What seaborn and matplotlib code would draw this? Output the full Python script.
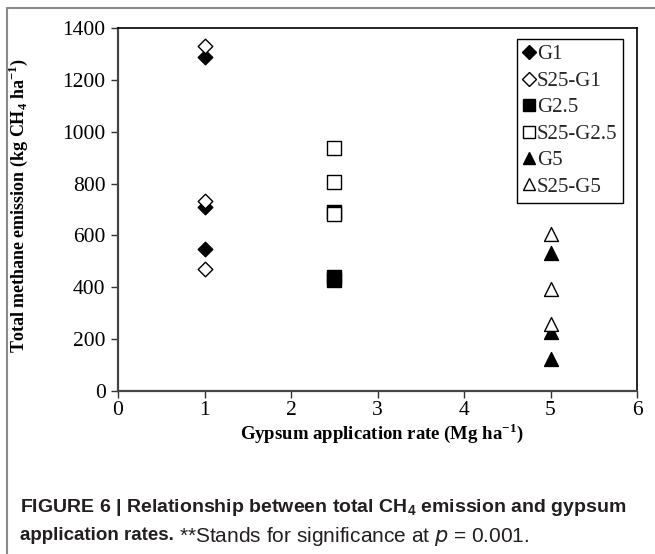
import matplotlib
matplotlib.use("Agg")
import matplotlib.pyplot as plt
import seaborn as sns
import pandas as pd
from matplotlib.lines import Line2D

sns.set_theme(style="white")

series = ["G1", "S25-G1", "G2.5", "S25-G2.5", "G5", "S25-G5"]
rates = {"G1": 1, "S25-G1": 1, "G2.5": 2.5, "S25-G2.5": 2.5, "G5": 5, "S25-G5": 5}
values = {
    "G1": [1290, 708, 546],
    "S25-G1": [1331, 733, 471],
    "G2.5": [692, 440, 428],
    "S25-G2.5": [936, 805, 682],
    "G5": [532, 228, 122],
    "S25-G5": [607, 395, 258],
}
markers = {"G1": "D", "S25-G1": "D", "G2.5": "s", "S25-G2.5": "s", "G5": "^", "S25-G5": "^"}
filled = {"G1": True, "S25-G1": False, "G2.5": True, "S25-G2.5": False, "G5": True, "S25-G5": False}
sizes = {"D": 55, "s": 100, "^": 100}

rows = []
for s in series:
    for v in values[s]:
        rows.append({"series": s, "rate": rates[s], "emission": v})
df = pd.DataFrame(rows)

fig = plt.figure(figsize=(6.55, 5.54), dpi=100)
ax = fig.add_axes([118 / 655, 1 - 391 / 554, (637 - 118) / 655, (391 - 28) / 554])

for s in series:
    sub = df[df["series"] == s]
    m = markers[s]
    sns.scatterplot(data=sub, x="rate", y="emission", ax=ax, marker=m,
                    s=sizes[m], color="black",
                    facecolor="black" if filled[s] else "white",
                    edgecolor="black", linewidth=1.0, legend=False, zorder=3)

ax.set_xlim(0, 6)
ax.set_ylim(0, 1400)
ax.set_xticks(range(0, 7))
ax.set_yticks(range(0, 1401, 200))

serif = ["Liberation Serif", "DejaVu Serif"]
for lab in ax.get_xticklabels() + ax.get_yticklabels():
    lab.set_family(serif)
    lab.set_fontsize(15.5)
    lab.set_color("black")

ax.tick_params(axis="both", which="major", direction="out", length=5, width=1.0,
               color="#333333", bottom=True, left=True, pad=4)
ax.tick_params(axis="x", pad=2.5)
for side in ["left", "bottom"]:
    ax.spines[side].set_color("#444444")
    ax.spines[side].set_linewidth(1.6)
for side in ["top", "right"]:
    ax.spines[side].set_color("black")
    ax.spines[side].set_linewidth(1.2)

ax.set_xlabel("Gypsum application rate (Mg ha$^{\\mathregular{-1}}$)", family=serif,
              fontweight="bold", fontsize=13.5, color="black")
ax.set_ylabel("Total methane emission (kg CH$_{\\mathregular{4}}$ ha$^{\\mathregular{-1}}$)",
              family=serif, fontweight="bold", fontsize=13, color="black")
ax.xaxis.label.set_va("center")
ax.yaxis.label.set_va("center")
ax.xaxis.set_label_coords((382 - 118) / 519, (391 - 433) / 363)
ax.yaxis.set_label_coords((18 - 118) / 519, (391 - 206) / 363)

handles = []
for s in series:
    m = markers[s]
    handles.append(Line2D([], [], linestyle="none", marker=m,
                          markersize=7 if m == "D" else 9,
                          markerfacecolor="black" if filled[s] else "white",
                          markeredgecolor="black", markeredgewidth=1.0, label=s))
leg = ax.legend(handles=handles, loc="upper right",
                bbox_to_anchor=((623 - 118) / 519, (391 - 39) / 363),
                frameon=True, fancybox=False, framealpha=1, edgecolor="black",
                prop={"family": serif, "size": 15}, handlelength=0.55,
                handletextpad=0.1, borderpad=0.28, labelspacing=0.33,
                borderaxespad=0)
leg.get_frame().set_linewidth(1.0)

# outer frame (left and top edges)
fig.add_artist(Line2D([7 / 655, 7 / 655], [0, 1 - 8 / 554], transform=fig.transFigure,
                      color="#8a8a8a", linewidth=1.5))
fig.add_artist(Line2D([7 / 655, 1], [1 - 8 / 554, 1 - 8 / 554], transform=fig.transFigure,
                      color="#8a8a8a", linewidth=1.5))

sans = ["Liberation Sans", "DejaVu Sans"]
fig.text(20 / 655, 1 - 508 / 554,
         "FIGURE 6 | Relationship between total CH$_{\\mathregular{4}}$ emission and gypsum",
         family=sans, fontweight="bold", fontsize=14, color="#231f20", va="center")
t1 = fig.text(20 / 655, 1 - 536 / 554, "application rates.", family=sans,
              fontweight="bold", fontsize=13.5, color="#231f20", va="center")
fig.canvas.draw()
bb = t1.get_window_extent()
fig.text((bb.x1 + 5) / 655, 1 - 536 / 554,
         "**Stands for significance at $\\mathit{p}$ = 0.001.",
         family=sans, fontsize=15, color="#231f20", va="center")

fig.savefig("out.png", dpi=100)
